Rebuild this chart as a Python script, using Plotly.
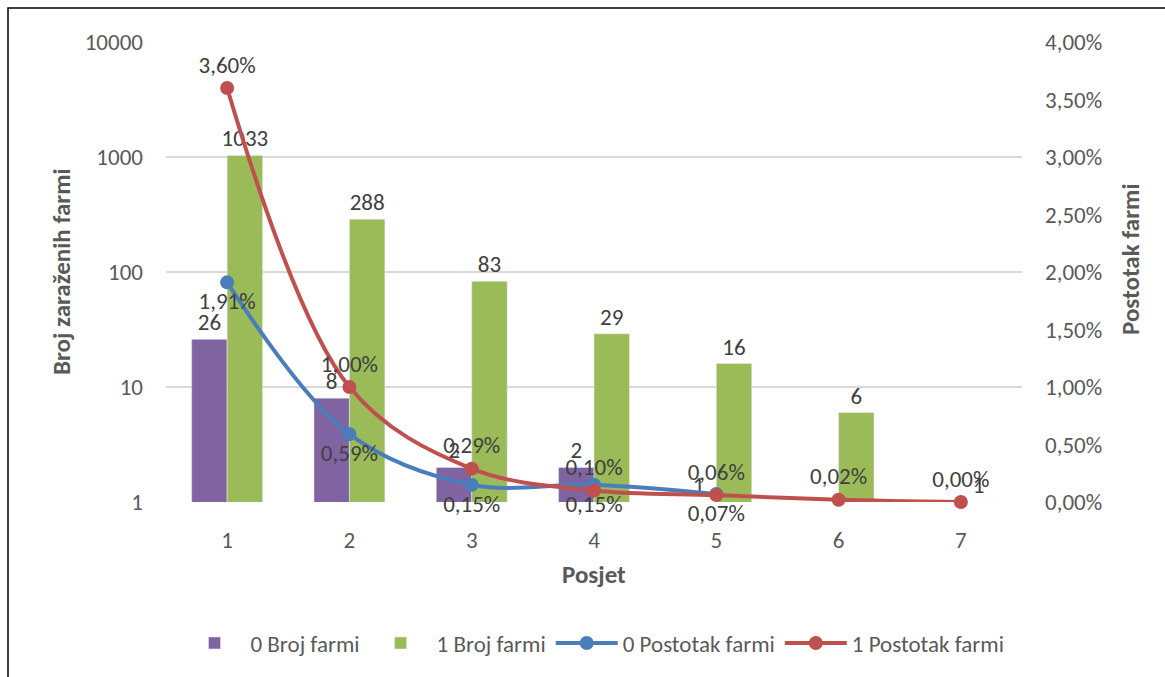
import plotly.graph_objects as go

posjet = [1, 2, 3, 4, 5, 6, 7]
broj_0 = [26, 8, 2, 2, 1]
broj_1 = [1033, 288, 83, 29, 16, 6, 1]
postotak_0 = [0.0191, 0.0059, 0.0015, 0.0015, 0.0007]
postotak_1 = [0.0360, 0.0100, 0.0029, 0.0010, 0.0006, 0.0002, 0.0000]
left_ticks = [1, 10, 100, 1000, 10000]
left_ticktext = ["1", "10", "100", "1000", "10000"]

FONT = "Carlito, Lato, Noto Sans, sans-serif"
GRAY = "#595959"
LABEL = "#404040"
FS = 23

fig = go.Figure()
fig.add_trace(go.Bar(
    x=posjet[:len(broj_0)], y=broj_0, name="0 Broj farmi",
    marker=dict(color="#8064a2"),
    text=[str(v) for v in broj_0], textposition="outside", constraintext="none",
    textfont=dict(size=FS, color=LABEL, family=FONT), cliponaxis=False,
))
fig.add_trace(go.Bar(
    x=posjet, y=broj_1, name="1 Broj farmi",
    marker=dict(color="#9bbb59"),
    text=[str(v) for v in broj_1], textposition="outside", constraintext="none",
    textfont=dict(size=FS, color=LABEL, family=FONT), cliponaxis=False,
))
fig.add_trace(go.Scatter(
    x=posjet[:len(postotak_0)], y=postotak_0, name="0 Postotak farmi", yaxis="y2",
    mode="lines+markers+text", line=dict(color="#4a7ebb", width=4, shape="spline"),
    marker=dict(size=14, color="#4a7ebb"),
    texttemplate="%{y:.2%}", textposition="bottom center",
    textfont=dict(size=FS, color=LABEL, family=FONT), cliponaxis=False,
))
fig.add_trace(go.Scatter(
    x=posjet, y=postotak_1, name="1 Postotak farmi", yaxis="y2",
    mode="lines+markers+text", line=dict(color="#c0504d", width=4, shape="spline"),
    marker=dict(size=14, color="#c0504d"),
    texttemplate="%{y:.2%}", textposition="top center",
    textfont=dict(size=FS, color=LABEL, family=FONT), cliponaxis=False,
))

L, R, T, B = 166, 143, 42, 175
W, H = 1165, 677
pw, ph = W - L - R, H - T - B

def px(x):
    return (x - L) / pw

def py(y):
    return (H - B - y) / ph

fig.update_layout(
    width=W, height=H,
    margin=dict(l=L, r=R, t=T, b=B, autoexpand=False),
    paper_bgcolor="white", plot_bgcolor="white",
    separators=", ",
    barmode="group", bargap=0.42, bargroupgap=0,
    font=dict(family=FONT, size=FS, color=GRAY),
    showlegend=True,
    legend=dict(orientation="h", x=0.5, xanchor="center", y=py(643), yanchor="middle",
                font=dict(size=FS, color=GRAY, family=FONT), traceorder="normal",
                itemwidth=62, tracegroupgap=0),
    xaxis=dict(range=[0.5, 7.5], tickvals=posjet, ticktext=[str(p) for p in posjet],
               showgrid=False, zeroline=False, showline=False,
               ticks="", ticklabelstandoff=22, tickfont=dict(size=FS, color=GRAY)),
    yaxis=dict(type="log", range=[0, 4], tickvals=left_ticks, ticktext=left_ticktext,
               showgrid=True, gridcolor="#d9d9d9", gridwidth=1.5, zeroline=False,
               showline=False, ticks="", ticklabelstandoff=22,
               tickfont=dict(size=FS, color=GRAY)),
    yaxis2=dict(overlaying="y", side="right", range=[0, 0.04], dtick=0.005,
                tickformat=".2%", showgrid=False, zeroline=False, showline=False,
                ticks="", ticklabelstandoff=22, tickfont=dict(size=FS, color=GRAY)),
    shapes=[dict(type="rect", xref="paper", yref="paper",
                 x0=px(8), x1=px(1172), y0=py(8), y1=py(690),
                 line=dict(color="black", width=1.5), layer="below")],
    annotations=[
        dict(text="<b>Broj zaraženih farmi</b>", xref="paper", yref="paper",
             x=px(61), y=py(272), textangle=-90, showarrow=False,
             xanchor="center", yanchor="middle",
             font=dict(size=25, color=GRAY, family=FONT)),
        dict(text="<b>Postotak farmi</b>", xref="paper", yref="paper",
             x=px(1130), y=py(259), textangle=-90, showarrow=False,
             xanchor="center", yanchor="middle",
             font=dict(size=25, color=GRAY, family=FONT)),
        dict(text="<b>Posjet</b>", xref="paper", yref="paper",
             x=px(594), y=py(574), showarrow=False,
             xanchor="center", yanchor="middle",
             font=dict(size=25, color=GRAY, family=FONT)),
    ],
)

fig.write_html("out.html", post_script="document.body.style.margin='0';",
               config={"displayModeBar": False})
